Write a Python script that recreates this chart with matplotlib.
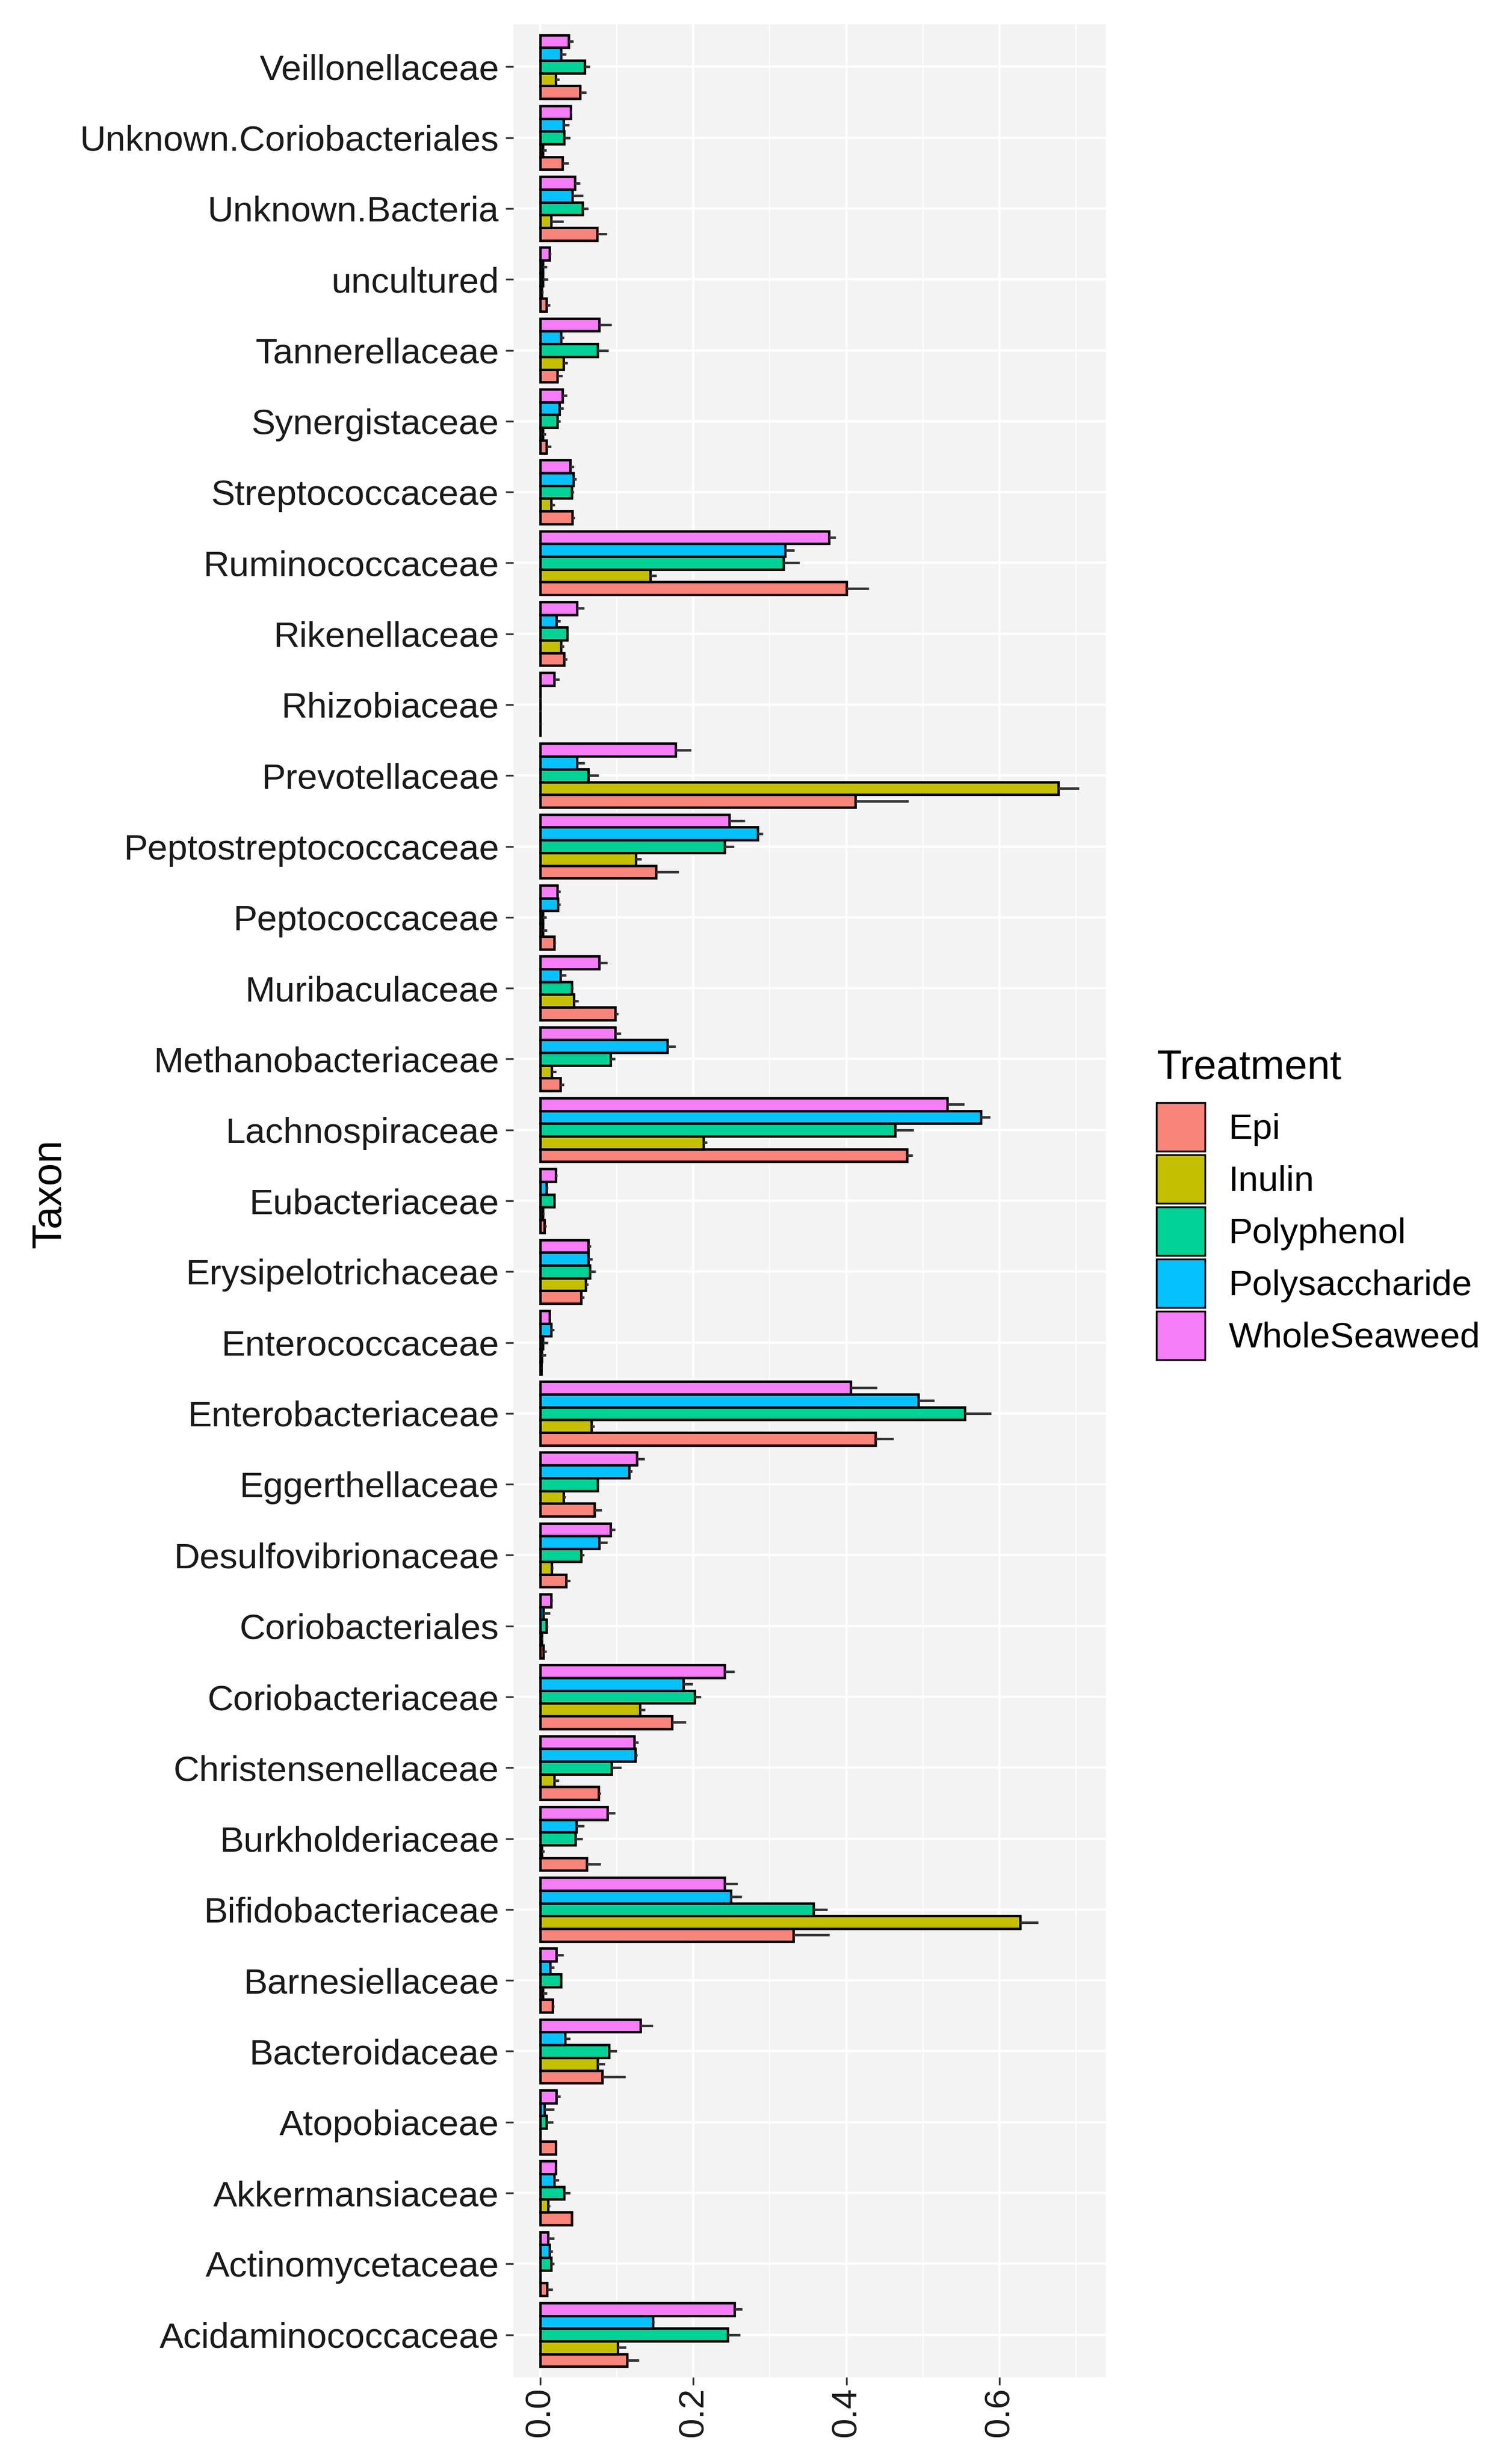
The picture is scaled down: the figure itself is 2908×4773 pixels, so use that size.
import matplotlib
matplotlib.use("Agg")
import matplotlib.pyplot as plt
from matplotlib.patches import Patch
from matplotlib.ticker import FixedLocator
import numpy as np

plt.rcParams['font.family'] = ['Liberation Sans', 'DejaVu Sans']

# taxa, bottom to top (alphabetical, as ggplot puts them with coord_flip)
taxa = ['Acidaminococcaceae', 'Actinomycetaceae', 'Akkermansiaceae', 'Atopobiaceae',
        'Bacteroidaceae', 'Barnesiellaceae', 'Bifidobacteriaceae', 'Burkholderiaceae',
        'Christensenellaceae', 'Coriobacteriaceae', 'Coriobacteriales', 'Desulfovibrionaceae',
        'Eggerthellaceae', 'Enterobacteriaceae', 'Enterococcaceae', 'Erysipelotrichaceae',
        'Eubacteriaceae', 'Lachnospiraceae', 'Methanobacteriaceae', 'Muribaculaceae',
        'Peptococcaceae', 'Peptostreptococcaceae', 'Prevotellaceae', 'Rhizobiaceae',
        'Rikenellaceae', 'Ruminococcaceae', 'Streptococcaceae', 'Synergistaceae',
        'Tannerellaceae', 'uncultured', 'Unknown.Bacteria', 'Unknown.Coriobacteriales',
        'Veillonellaceae']

treatments = ['Epi', 'Inulin', 'Polyphenol', 'Polysaccharide', 'WholeSeaweed']
colors = ['#F9847A', '#C4C000', '#00D295', '#05C2FF', '#F57DF7']

epi_mean = [0.113, 0.009, 0.041, 0.020, 0.081, 0.016, 0.331, 0.061, 0.076, 0.172, 0.004,
            0.034, 0.071, 0.438, 0.001, 0.053, 0.005, 0.479, 0.026, 0.098, 0.018, 0.151,
            0.412, 0.000, 0.031, 0.400, 0.042, 0.008, 0.022, 0.008, 0.074, 0.029, 0.052]
epi_se = [0.016, 0.007, 0.001, 0.001, 0.030, 0.002, 0.047, 0.018, 0.003, 0.018, 0.004,
          0.005, 0.009, 0.024, 0.001, 0.004, 0.003, 0.008, 0.005, 0.004, 0.002, 0.030,
          0.069, 0.000, 0.004, 0.029, 0.003, 0.006, 0.007, 0.005, 0.013, 0.008, 0.008]

inulin_mean = [0.101, 0.000, 0.010, 0.000, 0.075, 0.003, 0.627, 0.002, 0.018, 0.130, 0.002,
               0.015, 0.030, 0.067, 0.002, 0.059, 0.003, 0.213, 0.015, 0.044, 0.003, 0.125,
               0.677, 0.000, 0.027, 0.144, 0.014, 0.003, 0.030, 0.002, 0.014, 0.003, 0.020]
inulin_se = [0.011, 0.000, 0.003, 0.000, 0.009, 0.006, 0.024, 0.003, 0.006, 0.007, 0.001,
             0.002, 0.003, 0.004, 0.005, 0.004, 0.002, 0.005, 0.006, 0.006, 0.006, 0.007,
             0.027, 0.000, 0.004, 0.008, 0.005, 0.004, 0.006, 0.002, 0.016, 0.005, 0.005]

polyphenol_mean = [0.245, 0.014, 0.031, 0.008, 0.090, 0.027, 0.357, 0.046, 0.093, 0.202, 0.008,
                   0.053, 0.075, 0.555, 0.003, 0.065, 0.018, 0.464, 0.092, 0.041, 0.003, 0.241,
                   0.063, 0.000, 0.035, 0.318, 0.041, 0.022, 0.075, 0.003, 0.055, 0.031, 0.058]
polyphenol_se = [0.016, 0.004, 0.008, 0.009, 0.010, 0.001, 0.018, 0.009, 0.013, 0.008, 0.002,
                 0.004, 0.001, 0.034, 0.007, 0.007, 0.001, 0.024, 0.006, 0.002, 0.005, 0.012,
                 0.013, 0.000, 0.002, 0.021, 0.003, 0.004, 0.014, 0.007, 0.008, 0.008, 0.007]

polysaccharide_mean = [0.147, 0.012, 0.018, 0.005, 0.032, 0.013, 0.249, 0.047, 0.124, 0.187, 0.004,
                       0.077, 0.116, 0.494, 0.014, 0.063, 0.008, 0.576, 0.166, 0.026, 0.023, 0.284,
                       0.048, 0.000, 0.021, 0.320, 0.043, 0.025, 0.027, 0.003, 0.042, 0.030, 0.027]
polysaccharide_se = [0.002, 0.004, 0.006, 0.013, 0.007, 0.005, 0.014, 0.010, 0.003, 0.012, 0.009,
                     0.011, 0.004, 0.021, 0.004, 0.005, 0.002, 0.012, 0.011, 0.008, 0.003, 0.007,
                     0.010, 0.000, 0.005, 0.012, 0.004, 0.005, 0.004, 0.006, 0.014, 0.008, 0.007]

seaweed_mean = [0.254, 0.010, 0.020, 0.021, 0.131, 0.021, 0.241, 0.088, 0.123, 0.241, 0.014,
                0.092, 0.126, 0.406, 0.012, 0.063, 0.020, 0.532, 0.098, 0.077, 0.022, 0.247,
                0.177, 0.018, 0.048, 0.377, 0.039, 0.029, 0.077, 0.012, 0.045, 0.040, 0.037]
seaweed_se = [0.010, 0.008, 0.001, 0.005, 0.016, 0.009, 0.017, 0.010, 0.005, 0.013, 0.002,
              0.006, 0.010, 0.034, 0.001, 0.003, 0.002, 0.022, 0.007, 0.011, 0.004, 0.020,
              0.020, 0.007, 0.009, 0.009, 0.005, 0.006, 0.016, 0.002, 0.007, 0.001, 0.006]

means = [epi_mean, inulin_mean, polyphenol_mean, polysaccharide_mean, seaweed_mean]
ses = [epi_se, inulin_se, polyphenol_se, polysaccharide_se, seaweed_se]

text_col = '#1A1A1A'

fig = plt.figure(figsize=(29.08, 47.73), dpi=100)
ax = fig.add_axes([994 / 2908, 1 - 4605 / 4773, 1147 / 2908, (4605 - 47) / 4773])
ax.set_facecolor('#F3F3F3')

base = np.arange(len(taxa))
n = len(treatments)
w = 0.9 / n
for i, (tr, col) in enumerate(zip(treatments, colors)):
    pos = base + (i - (n - 1) / 2) * w
    m = np.array(means[i])
    s = np.array(ses[i])
    ax.barh(pos, m, height=w, color=col, edgecolor='black', linewidth=3.4, zorder=3)
    ax.hlines(pos, m, m + s, color='#333333', linewidth=3.5, zorder=4, capstyle='butt')

top = max(max(np.array(m) + np.array(s)) for m, s in zip(means, ses))
ax.set_xlim(-0.05 * top, 1.05 * top)
ax.set_ylim(-0.6, len(taxa) - 0.4)

ax.xaxis.set_major_locator(FixedLocator([0.0, 0.2, 0.4, 0.6]))
ax.xaxis.set_minor_locator(FixedLocator([0.1, 0.3, 0.5, 0.7]))
ax.set_xticklabels(['0.0', '0.2', '0.4', '0.6'], rotation=90)
ax.set_yticks(base)
ax.set_yticklabels(taxa)

ax.set_axisbelow(True)
ax.grid(which='major', color='white', linewidth=3.2, zorder=0)
ax.grid(which='minor', axis='x', color='white', linewidth=1.6, zorder=0)
for sp in ax.spines.values():
    sp.set_visible(False)

ax.tick_params(which='major', length=11, width=2.5, color='#333333',
               labelsize=50, labelcolor=text_col, pad=9)
ax.tick_params(axis='x', which='major', pad=3)
ax.tick_params(which='minor', length=0)

ax.set_ylabel('Taxon', fontsize=57, color='black')
ax.yaxis.set_label_coords((97 - 994) / 1147, 0.503)
ax.yaxis.label.set_verticalalignment('center')

# legend keys ~92 px square, pitch ~99 px
handles = [Patch(facecolor=c, edgecolor='black', linewidth=2.5) for c in colors]
leg = fig.legend(handles, treatments, loc='upper left',
                 bbox_to_anchor=(2239 / 2908, 1 - 2032 / 4773),
                 frameon=False, fontsize=50, title='Treatment', title_fontsize=57,
                 handlelength=1.35, handleheight=1.70, labelspacing=0.105,
                 handletextpad=0.66, borderpad=0, borderaxespad=0, alignment='left')
leg._legend_box.sep = 21
for t in leg.get_texts():
    t.set_color('black')

fig.savefig('out.png', dpi=100)
